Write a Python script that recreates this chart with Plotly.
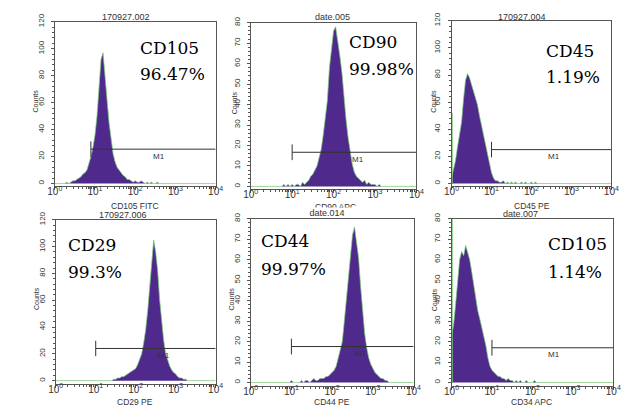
import numpy as np
import plotly.graph_objects as go

W, H = 634, 411

# Channel grid in decades (log10 fluorescence), 0.05-decade bins from 10^0 to 10^4
channel_log = np.round(np.arange(0, 4.0001, 0.05), 2)

cd105_fitc_counts = [
    0, 0, 0, 0, 0, 0, 1, 0, 1, 2,
    2, 3, 4, 5, 7, 8, 10, 15, 20, 27,
    36, 50, 75, 92, 97, 82, 62, 45, 32, 22,
    16, 12, 10, 8, 6, 5, 3, 3, 2, 1,
    2, 1, 1, 2, 1, 0, 1, 0, 1, 0,
    0, 1, 0, 0, 0, 0, 0, 0, 0, 0,
    0, 0, 0, 0, 0, 0, 0, 0, 0, 0,
    0, 0, 0, 0, 0, 0, 0, 0, 0, 0,
    0]
cd90_apc_counts = [
    0, 0, 0, 0, 0, 0, 0, 0, 0, 0,
    0, 0, 0, 0, 0, 0, 1, 0, 1, 0,
    1, 0, 1, 1, 0, 2, 1, 2, 3, 5,
    6, 8, 10, 14, 18, 25, 33, 42, 58, 68,
    76, 78, 72, 64, 56, 43, 33, 24, 17, 11,
    7, 5, 4, 3, 2, 3, 1, 2, 1, 1,
    1, 0, 1, 0, 0, 0, 0, 0, 0, 0,
    0, 0, 0, 0, 0, 0, 0, 0, 0, 0,
    0]
cd45_pe_counts = [
    4, 10, 17, 27, 36, 45, 62, 76, 81, 78,
    73, 68, 63, 58, 50, 43, 35, 28, 21, 14,
    8, 4, 2, 2, 1, 1, 2, 0, 1, 0,
    1, 0, 1, 0, 0, 1, 0, 1, 0, 0,
    1, 0, 1, 0, 0, 0, 0, 0, 0, 0,
    0, 0, 0, 0, 0, 0, 0, 0, 0, 0,
    0, 0, 0, 0, 0, 0, 0, 0, 0, 0,
    0, 0, 0, 0, 0, 0, 0, 0, 0, 0,
    0]
cd29_pe_counts = [
    0, 0, 0, 0, 0, 0, 0, 0, 0, 0,
    0, 0, 0, 0, 0, 0, 0, 0, 0, 0,
    0, 0, 0, 0, 0, 0, 0, 0, 0, 1,
    1, 2, 2, 3, 3, 4, 5, 6, 7, 8,
    9, 12, 16, 20, 28, 38, 52, 68, 88, 105,
    96, 82, 60, 42, 30, 20, 15, 11, 8, 6,
    5, 3, 2, 2, 1, 1, 0, 0, 0, 0,
    0, 0, 0, 0, 0, 0, 0, 0, 0, 0,
    0]
cd44_pe_counts = [
    0, 0, 0, 0, 0, 0, 0, 0, 0, 0,
    0, 0, 0, 0, 0, 0, 0, 0, 0, 0,
    1, 0, 0, 0, 0, 1, 0, 1, 1, 0,
    1, 2, 1, 1, 2, 2, 2, 3, 3, 4,
    5, 6, 8, 12, 15, 20, 30, 40, 52, 62,
    72, 76, 68, 61, 47, 34, 24, 17, 12, 9,
    7, 5, 4, 3, 2, 2, 1, 1, 0, 0,
    0, 0, 0, 0, 0, 0, 0, 0, 0, 0,
    0]
cd34_apc_counts = [
    23, 28, 38, 50, 60, 64, 62, 67, 63, 60,
    54, 47, 40, 35, 31, 27, 23, 18, 12, 8,
    6, 5, 4, 3, 3, 2, 2, 1, 2, 1,
    1, 0, 1, 0, 1, 0, 0, 1, 0, 0,
    0, 1, 0, 0, 0, 0, 0, 0, 0, 0,
    0, 0, 0, 0, 0, 0, 0, 0, 0, 0,
    0, 0, 0, 0, 0, 0, 0, 0, 0, 0,
    0, 0, 0, 0, 0, 0, 0, 0, 0, 0,
    0]

# events piled up in the lowest channel (off-scale)
first_channel_counts = [0, 0, 52, 0, 0, 85]

sample_ids = ["170927.002", "date.005", "170927.004", "170927.006", "date.014", "date.007"]
x_titles = ["CD105 FITC", "CD90 APC", "CD45 PE", "CD29 PE", "CD44 PE", "CD34 APC"]
markers = ["CD105", "CD90", "CD45", "CD29", "CD44", "CD105"]
positive_pct = ["96.47%", "99.98%", "1.19%", "99.3%", "99.97%", "1.14%"]
y_max = [120, 80, 120, 120, 80, 80]
y_major = [20, 10, 20, 20, 10, 10]
gate_start = [7.9, 10, 10, 10, 10, 10]
gate_level = [25.5, 16.7, 25, 24, 17.6, 17]
gate_end = 1e4

counts = [cd105_fitc_counts, cd90_apc_counts, cd45_pe_counts,
          cd29_pe_counts, cd44_pe_counts, cd34_apc_counts]

# panel geometry in pixels: plot box (left, right, top, bottom), text anchors
panels = [
    dict(box=(48, 213, 14, 182), title=(121, 9), xtitle=(130, 202), ylab=28, mk=(133, 40.5, 67.5), m1=2.6),
    dict(box=(249, 419, 15, 185), title=(333, 9), xtitle=(336, 203), ylab=232, mk=(348, 34.5, 62.5), m1=2.6),
    dict(box=(455, 619, 13, 182), title=(527, 9), xtitle=(538, 202), ylab=437, mk=(550, 43.5, 70.5), m1=2.56),
    dict(box=(49, 213, 216, 383), title=(118, 211), xtitle=(130, 402), ylab=29, mk=(60, 242, 269.5), m1=2.7),
    dict(box=(249, 416, 215, 385), title=(327, 209), xtitle=(332, 402), ylab=229, mk=(258, 237.5, 266), m1=2.7),
    dict(box=(455, 621, 215, 385), title=(526, 210), xtitle=(537, 402), ylab=437, mk=(552, 240.5, 269.5), m1=2.53),
]

PURPLE = "#4f2a8c"
GREEN = "rgba(120,200,120,0.9)"
AXIS = "#555555"
TXT = "#333333"
SANS = "Liberation Sans"
SERIF = "DejaVu Serif"


def px_x(v):
    return v / W


def px_y(v):
    return 1 - v / H


def paper_text(x, y, text, **kw):
    d = dict(xref="paper", yref="paper", x=px_x(x), y=px_y(y), text=text,
             showarrow=False, xanchor="center", yanchor="middle")
    d.update(kw)
    return d


major_x = [1, 10, 100, 1000, 10000]
major_x_text = ["10<sup>%d</sup>" % k for k in range(5)]
minor_x = [m * 10 ** d for d in range(4) for m in range(2, 10)]

fig = go.Figure()
layout = dict(
    width=W, height=H, margin=dict(l=0, r=0, t=0, b=0),
    paper_bgcolor="white", plot_bgcolor="white", showlegend=False,
)
annotations = []

x_vals = 10 ** channel_log

for i, p in enumerate(panels):
    k = "" if i == 0 else str(i + 1)
    xr, yr = "x" + k, "y" + k
    l, r, t, b = p["box"]
    ymax = y_max[i]

    # histogram
    fig.add_trace(go.Scatter(
        x=x_vals, y=counts[i], mode="lines", xaxis=xr, yaxis=yr,
        line=dict(color=GREEN, width=0.8), fill="tozeroy", fillcolor=PURPLE,
        hoverinfo="skip"))
    # off-scale first channel
    if first_channel_counts[i] > 0:
        fig.add_trace(go.Scatter(
            x=[10 ** 0.015, 10 ** 0.015], y=[0, first_channel_counts[i]], mode="lines",
            xaxis=xr, yaxis=yr, line=dict(color=GREEN, width=1.4), hoverinfo="skip"))
    # M1 gate
    tick_h = ymax * 0.048
    fig.add_trace(go.Scatter(
        x=[gate_start[i], gate_end], y=[gate_level[i], gate_level[i]], mode="lines",
        xaxis=xr, yaxis=yr, line=dict(color="#333333", width=1), hoverinfo="skip"))
    fig.add_trace(go.Scatter(
        x=[gate_start[i], gate_start[i]], y=[gate_level[i] - tick_h, gate_level[i] + tick_h],
        mode="lines", xaxis=xr, yaxis=yr, line=dict(color="#333333", width=1), hoverinfo="skip"))
    annotations.append(dict(
        xref=xr, yref=yr, x=p["m1"], y=gate_level[i], yshift=-7, text="M1",
        xanchor="center", yanchor="middle",
        showarrow=False, font=dict(family=SANS, size=8, color=TXT)))

    layout["xaxis" + k] = dict(
        type="log", range=[0, 4], domain=[px_x(l), px_x(r)], anchor=yr,
        showline=True, mirror=True, linecolor=AXIS, linewidth=1,
        ticks="outside", ticklen=3, tickcolor=AXIS, tickwidth=1,
        tickmode="array", tickvals=major_x, ticktext=major_x_text,
        tickfont=dict(family=SANS, size=10, color=TXT), ticklabelstandoff=-7,
        showgrid=False, zeroline=False,
        minor=dict(tickmode="array", tickvals=minor_x, ticks="outside",
                   ticklen=2, tickcolor=AXIS, showgrid=False),
    )
    layout["yaxis" + k] = dict(
        range=[-0.018 * ymax, ymax], domain=[px_y(b), px_y(t)], anchor=xr,
        showline=True, mirror=True, linecolor=AXIS, linewidth=1,
        ticks="outside", ticklen=3, tickcolor=AXIS, tickwidth=1,
        tickmode="linear", tick0=0, dtick=y_major[i], tickangle=-90,
        tickfont=dict(family=SANS, size=8, color=TXT), ticklabelstandoff=4,
        showgrid=False, zeroline=False,
        minor=dict(tick0=0, dtick=y_major[i] / 5, ticks="outside",
                   ticklen=2, tickcolor=AXIS, showgrid=False),
    )

    # y title
    annotations.append(paper_text(
        p["ylab"], (t + b) / 2 - 3, "Counts", textangle=-90,
        font=dict(family=SANS, size=7, color=TXT)))
    # marker name and positive fraction
    mx, my1, my2 = p["mk"]
    annotations.append(paper_text(
        mx, my1, markers[i], xanchor="left",
        font=dict(family=SERIF, size=17, color="black")))
    annotations.append(paper_text(
        mx, my2, positive_pct[i], xanchor="left",
        font=dict(family=SERIF, size=17, color="black")))

# channel titles below each panel
for i, p in enumerate(panels):
    annotations.append(paper_text(
        p["xtitle"][0], p["xtitle"][1], x_titles[i],
        font=dict(family=SANS, size=8.5, color=TXT)))

# sample ids above each panel; the middle bottom one sits on a white strip
for i, p in enumerate(panels):
    ann = paper_text(p["title"][0], p["title"][1], sample_ids[i],
                     font=dict(family=SANS, size=9, color=TXT))
    if i == 4:
        ann.update(bgcolor="white", width=150, height=9, borderpad=0)
    annotations.append(ann)

layout["annotations"] = annotations
fig.update_layout(**layout)
fig.write_html("out.html")
